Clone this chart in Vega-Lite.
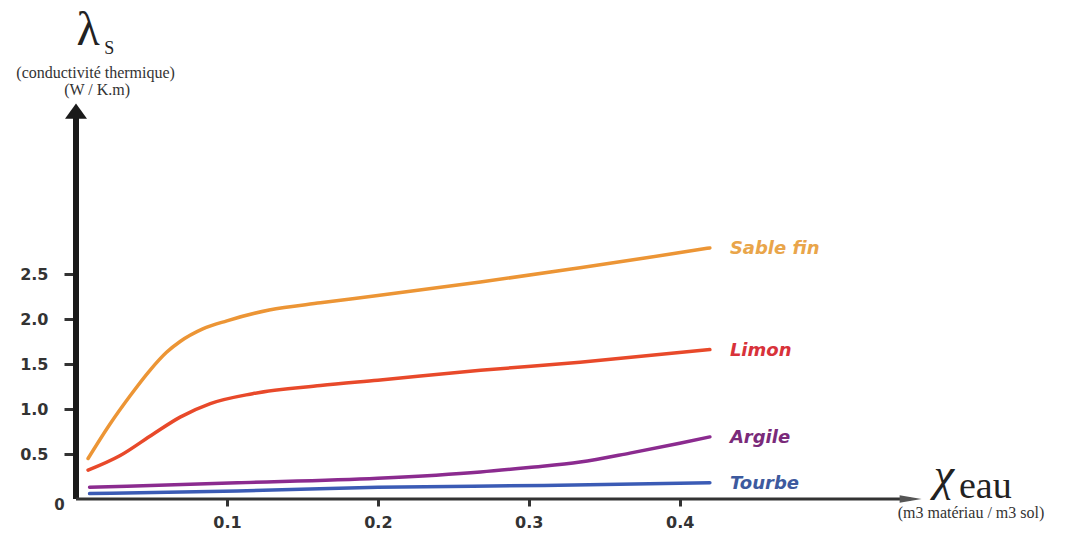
{
  "$schema": "https://vega.github.io/schema/vega-lite/v6.json",
  "autosize": "none",
  "width": 981,
  "height": 495,
  "padding": {"left": 76, "top": 4, "right": 9, "bottom": 34},
  "background": "white",
  "config": {"view": {"stroke": null}},
  "resolve": {"scale": {"color": "independent"}},
  "datasets": {
    "one": [{"k": 1}],
    "curves": [
      {"series": "Sable fin", "x": 0.008, "y": 0.45},
      {"series": "Sable fin", "x": 0.022, "y": 0.82},
      {"series": "Sable fin", "x": 0.036, "y": 1.15},
      {"series": "Sable fin", "x": 0.049, "y": 1.43},
      {"series": "Sable fin", "x": 0.06, "y": 1.63},
      {"series": "Sable fin", "x": 0.069, "y": 1.75},
      {"series": "Sable fin", "x": 0.084, "y": 1.89},
      {"series": "Sable fin", "x": 0.1, "y": 1.98},
      {"series": "Sable fin", "x": 0.128, "y": 2.1},
      {"series": "Sable fin", "x": 0.162, "y": 2.18},
      {"series": "Sable fin", "x": 0.2, "y": 2.26},
      {"series": "Sable fin", "x": 0.268, "y": 2.41},
      {"series": "Sable fin", "x": 0.334, "y": 2.57},
      {"series": "Sable fin", "x": 0.378, "y": 2.68},
      {"series": "Sable fin", "x": 0.42, "y": 2.79},
      {"series": "Limon", "x": 0.008, "y": 0.32},
      {"series": "Limon", "x": 0.029, "y": 0.48},
      {"series": "Limon", "x": 0.051, "y": 0.72},
      {"series": "Limon", "x": 0.069, "y": 0.91},
      {"series": "Limon", "x": 0.089, "y": 1.06},
      {"series": "Limon", "x": 0.117, "y": 1.17},
      {"series": "Limon", "x": 0.162, "y": 1.26},
      {"series": "Limon", "x": 0.2, "y": 1.32},
      {"series": "Limon", "x": 0.268, "y": 1.43},
      {"series": "Limon", "x": 0.334, "y": 1.52},
      {"series": "Limon", "x": 0.42, "y": 1.66},
      {"series": "Argile", "x": 0.009, "y": 0.13},
      {"series": "Argile", "x": 0.107, "y": 0.18},
      {"series": "Argile", "x": 0.2, "y": 0.23},
      {"series": "Argile", "x": 0.268, "y": 0.3},
      {"series": "Argile", "x": 0.3, "y": 0.35},
      {"series": "Argile", "x": 0.334, "y": 0.41},
      {"series": "Argile", "x": 0.367, "y": 0.51},
      {"series": "Argile", "x": 0.4, "y": 0.62},
      {"series": "Argile", "x": 0.42, "y": 0.69},
      {"series": "Tourbe", "x": 0.009, "y": 0.06},
      {"series": "Tourbe", "x": 0.107, "y": 0.09},
      {"series": "Tourbe", "x": 0.2, "y": 0.13},
      {"series": "Tourbe", "x": 0.31, "y": 0.15},
      {"series": "Tourbe", "x": 0.42, "y": 0.18}
    ]
  },
  "layer": [
    {
      "data": {"name": "curves"},
      "mark": {"type": "line", "interpolate": "monotone", "strokeWidth": 3.5, "strokeCap": "round"},
      "encoding": {
        "x": {
          "field": "x", "type": "quantitative",
          "scale": {"domain": [0, 0.65], "nice": false, "zero": false},
          "axis": {
            "values": [0.1, 0.2, 0.3, 0.4], "format": ".1f", "domain": false, "grid": false,
            "ticks": true, "tickSize": 7, "tickWidth": 3, "tickColor": "#333",
            "labelFont": "DejaVu Sans", "labelFontWeight": "bold", "labelFontSize": 16,
            "labelColor": "#333", "labelPadding": 8, "title": null
          }
        },
        "y": {
          "field": "y", "type": "quantitative",
          "scale": {"domain": [0, 5.5], "nice": false, "zero": false},
          "axis": {
            "values": [0.5, 1, 1.5, 2, 2.5], "format": ".1f", "domain": false, "grid": false,
            "ticks": true, "tickSize": 12, "tickWidth": 3, "tickColor": "#333",
            "labelFont": "DejaVu Sans", "labelFontWeight": "bold", "labelFontSize": 16,
            "labelColor": "#333", "labelPadding": 16, "title": null
          }
        },
        "color": {
          "field": "series", "type": "nominal",
          "scale": {"domain": ["Sable fin", "Limon", "Argile", "Tourbe"], "range": ["#ec9535", "#e8492a", "#8b2b8f", "#3b5bb5"]},
          "legend": null
        },
        "detail": {"field": "series"}
      }
    },
    {
      "data": {"name": "curves"},
      "transform": [
        {"joinaggregate": [{"op": "max", "field": "x", "as": "xmax"}], "groupby": ["series"]},
        {"filter": "datum.x == datum.xmax"}
      ],
      "mark": {"type": "text", "align": "left", "baseline": "middle", "dx": 20, "dy": 1, "font": "DejaVu Sans", "fontSize": 18, "fontStyle": "italic", "fontWeight": "bold"},
      "encoding": {
        "x": {"field": "x", "type": "quantitative"},
        "y": {"field": "y", "type": "quantitative"},
        "text": {"field": "series"},
        "color": {
          "field": "series", "type": "nominal",
          "scale": {"domain": ["Sable fin", "Limon", "Argile", "Tourbe"], "range": ["#e9a54a", "#d8323a", "#7a2a7a", "#3d5a9e"]},
          "legend": null
        }
      }
    },
    {
      "data": {"name": "one"},
      "mark": {"type": "rule", "strokeWidth": 6, "color": "#1a1a1a"},
      "encoding": {"x": {"datum": 0, "type": "quantitative"}, "y": {"datum": 0, "type": "quantitative"}, "y2": {"datum": 4.31}}
    },
    {
      "data": {"name": "one"},
      "mark": {"type": "rule", "strokeWidth": 3, "color": "#333333"},
      "encoding": {"x": {"datum": 0, "type": "quantitative"}, "x2": {"datum": 0.553}, "y": {"datum": 0, "type": "quantitative"}}
    },
    {
      "data": {"name": "one"},
      "mark": {"type": "point", "shape": "M -1 0.7 L 0 -0.7 L 1 0.7 Z", "size": 484, "filled": true, "opacity": 1, "color": "#1a1a1a"},
      "encoding": {"x": {"datum": 0, "type": "quantitative"}, "y": {"datum": 4.31, "type": "quantitative"}}
    },
    {
      "data": {"name": "one"},
      "mark": {"type": "point", "shape": "M -1 -0.35 L 1 0 L -1 0.35 Z", "size": 484, "filled": true, "opacity": 1, "color": "#555555"},
      "encoding": {"x": {"datum": 0.553, "type": "quantitative"}, "y": {"datum": 0, "type": "quantitative"}}
    },
    {
      "data": {"name": "one"},
      "mark": {"type": "text", "text": "0", "font": "DejaVu Sans", "fontWeight": "bold", "fontSize": 15, "color": "#333", "align": "center", "baseline": "middle"},
      "encoding": {"x": {"datum": -0.011, "type": "quantitative"}, "y": {"datum": -0.07, "type": "quantitative"}}
    },
    {
      "data": {"name": "one"},
      "mark": {"type": "text", "text": "λ", "font": "Liberation Serif", "fontSize": 48, "color": "#222", "align": "center", "baseline": "alphabetic"},
      "encoding": {"x": {"datum": 0.008, "type": "quantitative"}, "y": {"datum": 5.04, "type": "quantitative"}}
    },
    {
      "data": {"name": "one"},
      "mark": {"type": "text", "text": "S", "font": "Liberation Serif", "fontSize": 18, "color": "#222", "align": "center", "baseline": "alphabetic"},
      "encoding": {"x": {"datum": 0.022, "type": "quantitative"}, "y": {"datum": 4.94, "type": "quantitative"}}
    },
    {
      "data": {"name": "one"},
      "mark": {"type": "text", "text": "(conductivité thermique)", "font": "Liberation Serif", "fontSize": 16, "color": "#333", "align": "center", "baseline": "alphabetic"},
      "encoding": {"x": {"datum": 0.013, "type": "quantitative"}, "y": {"datum": 4.68, "type": "quantitative"}}
    },
    {
      "data": {"name": "one"},
      "mark": {"type": "text", "text": "(W / K.m)", "font": "Liberation Serif", "fontSize": 16, "color": "#333", "align": "center", "baseline": "alphabetic"},
      "encoding": {"x": {"datum": 0.014, "type": "quantitative"}, "y": {"datum": 4.49, "type": "quantitative"}}
    },
    {
      "data": {"name": "one"},
      "mark": {"type": "text", "text": "χ", "font": "Liberation Serif", "fontSize": 46, "fontStyle": "italic", "color": "#222", "align": "center", "baseline": "alphabetic"},
      "encoding": {"x": {"datum": 0.575, "type": "quantitative"}, "y": {"datum": 0.1, "type": "quantitative"}}
    },
    {
      "data": {"name": "one"},
      "mark": {"type": "text", "text": "eau", "font": "Liberation Serif", "fontSize": 38, "color": "#222", "align": "left", "baseline": "alphabetic"},
      "encoding": {"x": {"datum": 0.585, "type": "quantitative"}, "y": {"datum": 0.01, "type": "quantitative"}}
    },
    {
      "data": {"name": "one"},
      "mark": {"type": "text", "text": "(m3 matériau / m3 sol)", "font": "Liberation Serif", "fontSize": 16, "color": "#333", "align": "center", "baseline": "alphabetic"},
      "encoding": {"x": {"datum": 0.593, "type": "quantitative"}, "y": {"datum": -0.21, "type": "quantitative"}}
    }
  ]
}
